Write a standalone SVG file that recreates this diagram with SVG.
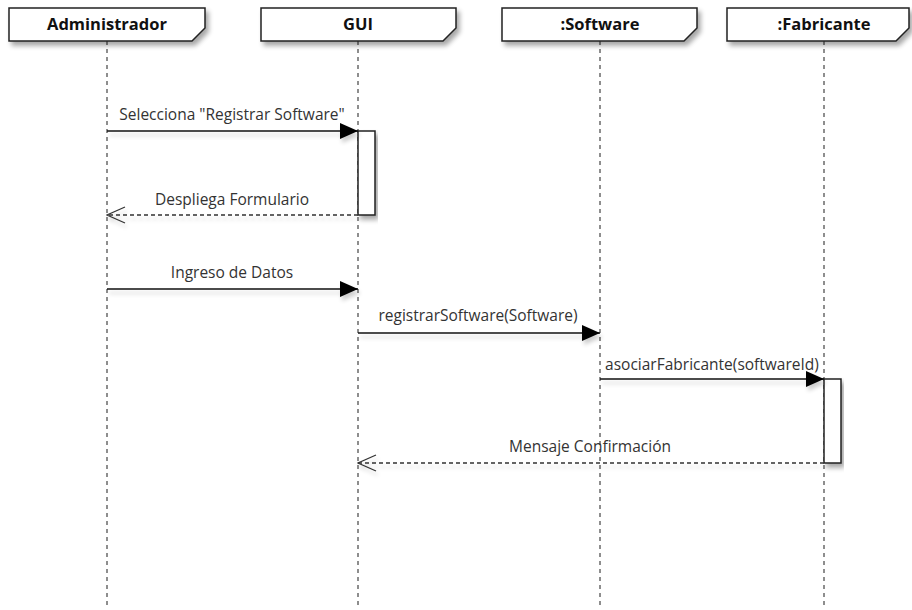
<svg xmlns="http://www.w3.org/2000/svg" width="912" height="610" viewBox="0 0 912 610">
  <defs>
    <filter id="shadow" x="-10%" y="-30%" width="125%" height="190%">
      <feGaussianBlur in="SourceAlpha" stdDeviation="2.5"/>
      <feOffset dx="3" dy="4" result="b"/>
      <feComponentTransfer><feFuncA type="linear" slope="0.35"/></feComponentTransfer>
      <feMerge><feMergeNode/><feMergeNode in="SourceGraphic"/></feMerge>
    </filter>
    <!-- user-space region so zero-height lines still render -->
    <filter id="lineshadow" filterUnits="userSpaceOnUse" x="0" y="0" width="912" height="610">
      <feGaussianBlur in="SourceAlpha" stdDeviation="2"/>
      <feOffset dx="2" dy="4" result="b"/>
      <feComponentTransfer><feFuncA type="linear" slope="0.2"/></feComponentTransfer>
      <feMerge><feMergeNode/><feMergeNode in="SourceGraphic"/></feMerge>
    </filter>
    <marker id="filled" markerWidth="18" markerHeight="16" refX="18" refY="8" orient="auto" markerUnits="userSpaceOnUse">
      <path d="M0,0 L18,8 L0,16 Z" fill="#000"/>
    </marker>
    <marker id="open" markerWidth="20" markerHeight="18" refX="19" refY="9" orient="auto" markerUnits="userSpaceOnUse">
      <path d="M1,1 L19,9 L1,17" fill="none" stroke="#333" stroke-width="1.2"/>
    </marker>
  </defs>
  <style>
    .head { fill: #fff; stroke: #222; stroke-width: 1.5; }
    .head-text { font-family: "Open Sans", "DejaVu Sans", sans-serif; font-weight: bold; font-size: 16.5px; fill: #111; text-anchor: middle; }
    .life { stroke: #444; stroke-width: 1.2; stroke-dasharray: 4 4; fill: none; }
    .act { fill: #fff; stroke: #222; stroke-width: 1.5; }
    .msg { stroke: #111; stroke-width: 1.5; fill: none; }
    .ret { stroke: #333; stroke-width: 1.5; stroke-dasharray: 4 3; fill: none; }
    .label { font-family: "Open Sans", "DejaVu Sans", sans-serif; font-size: 15.5px; fill: #333; text-anchor: middle; }
  </style>
  <rect width="912" height="610" fill="#fff"/>

  <!-- lifelines -->
  <g id="lifelines">
    <line class="life" x1="107" y1="41" x2="107" y2="608"/>
    <line class="life" x1="358" y1="41" x2="358" y2="608"/>
    <line class="life" x1="600" y1="41" x2="600" y2="608"/>
    <line class="life" x1="824" y1="41" x2="824" y2="608"/>
  </g>

  <!-- participant heads -->
  <g id="administrador">
    <path class="head" filter="url(#shadow)" d="M9,8 H205 V28 L192,41 H9 Z"/>
    <text class="head-text" x="107" y="30">Administrador</text>
  </g>
  <g id="gui">
    <path class="head" filter="url(#shadow)" d="M261,8 H456 V28 L443,41 H261 Z"/>
    <text class="head-text" x="358" y="30">GUI</text>
  </g>
  <g id="software">
    <path class="head" filter="url(#shadow)" d="M502,8 H697 V28 L684,41 H502 Z"/>
    <text class="head-text" x="600" y="30">:Software</text>
  </g>
  <g id="fabricante">
    <path class="head" filter="url(#shadow)" d="M727,8 H909 V28 L896,41 H727 Z"/>
    <text class="head-text" x="824" y="30">:Fabricante</text>
  </g>

  <!-- activation bars -->
  <g id="gui-activation">
    <rect class="act" filter="url(#shadow)" x="358" y="131" width="17" height="84"/>
  </g>
  <g id="fabricante-activation">
    <rect class="act" filter="url(#shadow)" x="824" y="379" width="17" height="84"/>
  </g>

  <!-- messages -->
  <g id="connectors">
    <line class="msg" filter="url(#lineshadow)" x1="107" y1="131" x2="358" y2="131" marker-end="url(#filled)"/>
    <text class="label" x="232" y="120">Selecciona "Registrar Software"</text>

    <line class="ret" filter="url(#lineshadow)" x1="358" y1="215" x2="107" y2="215" marker-end="url(#open)"/>
    <text class="label" x="232" y="205">Despliega Formulario</text>

    <line class="msg" filter="url(#lineshadow)" x1="107" y1="289" x2="358" y2="289" marker-end="url(#filled)"/>
    <text class="label" x="232" y="278">Ingreso de Datos</text>

    <line class="msg" filter="url(#lineshadow)" x1="358" y1="333" x2="600" y2="333" marker-end="url(#filled)"/>
    <text class="label" x="478" y="321">registrarSoftware(Software)</text>

    <line class="msg" filter="url(#lineshadow)" x1="600" y1="379" x2="824" y2="379" marker-end="url(#filled)"/>
    <text class="label" x="712" y="370">asociarFabricante(softwareId)</text>

    <line class="ret" filter="url(#lineshadow)" x1="824" y1="463" x2="358" y2="463" marker-end="url(#open)"/>
    <text class="label" x="590" y="452">Mensaje Confirmación</text>
  </g>
</svg>
